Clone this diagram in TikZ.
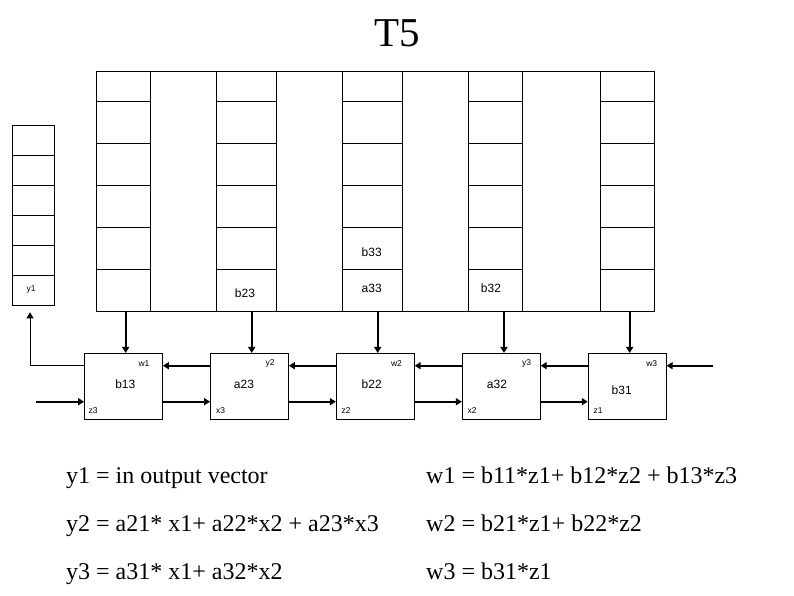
\documentclass[tikz,border=0pt]{standalone}
\usepackage{fontspec}
\setmainfont{Liberation Serif}
\newfontfamily\labfont{Liberation Sans}
\usetikzlibrary{arrows.meta}
\begin{document}
\begin{tikzpicture}[x=1pt,y=-1pt,
 cell/.style={draw, line width=0.8pt},
 pe/.style={draw, line width=0.8pt, minimum width=78pt, minimum height=65.7pt, inner sep=0pt},
 arr/.style={line width=2pt, -{Triangle[length=6pt,width=7pt]}},
 tarr/.style={line width=0.8pt, -{Triangle[length=6pt,width=7pt]}},
 big/.style={font=\labfont\fontsize{12}{12}\selectfont, inner sep=0pt},
 small/.style={font=\labfont\fontsize{8.5}{8.5}\selectfont, inner sep=0pt},
 eq/.style={font=\fontsize{24}{24}\selectfont, inner sep=0pt, anchor=base west},
]
\useasboundingbox (0,0) rectangle (794,595);
\node[font=\fontsize{41}{41}\selectfont, anchor=base, inner sep=0pt] (title) at (397.5,46) {T5};
% top grid
\draw[cell] (96.7,71.7) rectangle (654.3,311);
\foreach \x in {150.7,216.7,276.3,342.3,402.3,468.3,522.3,600.3}
  \draw[cell] (\x,71.7) -- (\x,311);
\foreach \a/\b in {96.7/150.7,216.7/276.3,342.3/402.3,468.3/522.3,600.3/654.3}
  \foreach \y in {101.3,143.3,185.3,227.3,269.3}
    \draw[cell] (\a,\y) -- (\b,\y);
% left column
\draw[cell] (12.7,125.3) rectangle (54.3,305.3);
\foreach \y in {155.3,185.3,215.3,245.3,275.3}
  \draw[cell] (12.7,\y) -- (54.3,\y);
\node[small] (ly1) at (31,289) {y1};
% grid labels
\node[big] (lb23) at (245,293.3) {b23};
\node[big] (lb33) at (371.7,252.3) {b33};
\node[big] (la33) at (371.7,288.7) {a33};
\node[big] (lb32) at (491,288.7) {b32};
% processing elements
\node[pe] (P1) at (123.5,386.2) {};
\node[pe] (P2) at (249.5,386.2) {};
\node[pe] (P3) at (375.3,386.2) {};
\node[pe] (P4) at (501.3,386.2) {};
\node[pe] (P5) at (627.2,386.2) {};
\node[big] (t1) at (125.3,384) {b13};
\node[big] (t2) at (244,384) {a23};
\node[big] (t3) at (371.7,384) {b22};
\node[big] (t4) at (497,384.3) {a32};
\node[big] (t5) at (621.7,390) {b31};
\node[small] (o1) at (144,363.3) {w1};
\node[small] (o2) at (270,363.3) {y2};
\node[small] (o3) at (396.5,363.3) {w2};
\node[small] (o4) at (526.7,363.3) {y3};
\node[small] (o5) at (651.7,363.3) {w3};
\node[small] (i1) at (93,411) {z3};
\node[small] (i2) at (220.5,411) {x3};
\node[small] (i3) at (346,411) {z2};
\node[small] (i4) at (472,411) {x2};
\node[small] (i5) at (598,411) {z1};
% vertical feeds
\coordinate (g1) at (125.7,311);
\coordinate (g2) at (251.7,311);
\coordinate (g3) at (377.7,311);
\coordinate (g4) at (504,311);
\coordinate (g5) at (629.7,311);
\draw[arr] (g1) -- (g1 |- P1.north);
\draw[arr] (g2) -- (g2 |- P2.north);
\draw[arr] (g3) -- (g3 |- P3.north);
\draw[arr] (g4) -- (g4 |- P4.north);
\draw[arr] (g5) -- (g5 |- P5.north);
% horizontal links
\draw[arr] ([yshift=20.5pt]P2.west) -- ([yshift=20.5pt]P1.east);
\draw[arr] ([yshift=20.5pt]P3.west) -- ([yshift=20.5pt]P2.east);
\draw[arr] ([yshift=20.5pt]P4.west) -- ([yshift=20.5pt]P3.east);
\draw[arr] ([yshift=20.5pt]P5.west) -- ([yshift=20.5pt]P4.east);
\draw[arr] ([yshift=-15.5pt]P1.east) -- ([yshift=-15.5pt]P2.west);
\draw[arr] ([yshift=-15.5pt]P2.east) -- ([yshift=-15.5pt]P3.west);
\draw[arr] ([yshift=-15.5pt]P3.east) -- ([yshift=-15.5pt]P4.west);
\draw[arr] ([yshift=-15.5pt]P4.east) -- ([yshift=-15.5pt]P5.west);
\coordinate (inL) at (36,401.7);
\coordinate (inR) at (713.3,365.7);
\draw[arr] (inL) -- ([yshift=-15.5pt]P1.west);
\draw[arr] (inR) -- ([yshift=20.5pt]P5.east);
\coordinate (ytop) at (30,312.3);
\draw[tarr] ([yshift=20.5pt]P1.west) -| (ytop);
% equations
\node[eq] (e1) at (66,483) {y1 = in output vector};
\node[eq] (e2) at (66,531.7) {y2 = a21* x1+ a22*x2 + a23*x3};
\node[eq] (e3) at (66,579) {y3 = a31* x1+ a32*x2};
\node[eq] (f1) at (426,483) {w1 = b11*z1+ b12*z2 + b13*z3};
\node[eq] (f2) at (426,531.7) {w2 = b21*z1+ b22*z2};
\node[eq] (f3) at (426,579) {w3 = b31*z1};
\end{tikzpicture}
\end{document}
